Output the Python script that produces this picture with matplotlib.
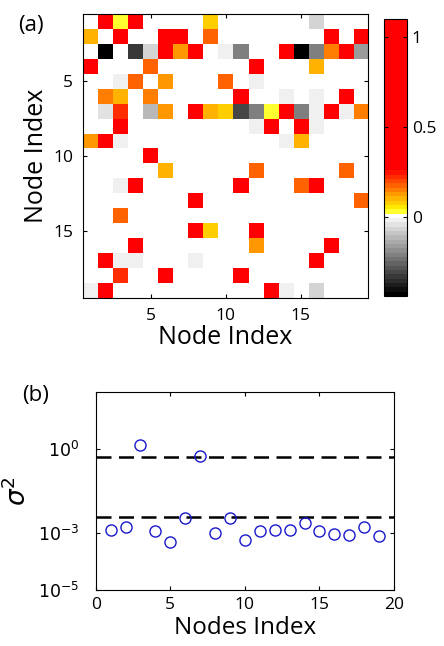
import matplotlib
matplotlib.use("Agg")
import matplotlib.pyplot as plt
import numpy as np
from matplotlib.colors import LinearSegmentedColormap

plt.rcParams['font.family'] = ['Open Sans', 'DejaVu Sans']
plt.rcParams['mathtext.fontset'] = 'dejavusans'

# ---- panel (a): sparse 19x19 matrix, (row, col, value), 1-indexed ----
N_NODES = 19
cell_rows = [1, 1, 1, 1, 1, 1,
             2, 2, 2, 2, 2, 2, 2,
             3, 3, 3, 3, 3, 3, 3, 3, 3, 3, 3, 3, 3, 3,
             4, 4, 4, 4,
             5, 5, 5, 5, 5,
             6, 6, 6, 6, 6, 6, 6,
             7, 7, 7, 7, 7, 7, 7, 7, 7, 7, 7, 7, 7, 7, 7, 7, 7,
             8, 8, 8, 8, 8, 8,
             9, 9, 9, 9, 9,
             10,
             11, 11, 11,
             12, 12, 12, 12, 12,
             13, 13,
             14,
             15, 15, 15,
             16, 16, 16,
             17, 17, 17, 17, 17,
             18, 18, 18,
             19, 19, 19, 19, 19, 19, 19, 19]
cell_cols = [2, 3, 4, 9, 12, 16,
             1, 3, 6, 7, 9, 17, 19,
             2, 4, 5, 6, 7, 8, 10, 11, 14, 15, 16, 17, 18, 19,
             1, 5, 12, 16,
             3, 4, 6, 10, 12,
             2, 3, 5, 11, 14, 16, 18,
             1, 2, 3, 5, 6, 8, 9, 10, 11, 12, 13, 14, 15, 16, 17, 18, 19,
             3, 12, 13, 15, 16, 19,
             1, 2, 3, 14, 15,
             5,
             6, 12, 18,
             3, 4, 11, 15, 16,
             8, 19,
             3,
             8, 9, 12,
             4, 12, 17,
             2, 3, 4, 8, 16,
             3, 6, 11,
             1, 2, 3, 4, 13, 14, 15, 16]
cell_vals = [1.0, 0.03, 1.0, 0.076, 0.015, -0.06,
             0.10, 1.0, 1.0, 1.0, 0.18, 1.0, 1.0,
             -0.42, -0.34, -0.06, 1.0, 0.13, 1.0, -0.03, -0.2, 1.0, -0.42, -0.2, 0.14, 1.0, -0.17,
             1.0, 0.18, 1.0, 0.10,
             -0.03, 0.18, 0.12, 0.18, -0.03,
             0.15, 0.10, 0.15, 1.0, -0.03, -0.03, 1.0,
             0.015, -0.05, 0.23, -0.11, 0.12, 1.0, 0.10, 0.07, -0.31, -0.2, 0.035, 1.0, -0.2, -0.03, 1.0, -0.03, 0.15,
             1.0, -0.03, 1.0, 1.0, -0.03, 0.015,
             0.12, 1.0, -0.03, -0.03, 0.10,
             1.0,
             0.10, 0.18, 0.18,
             -0.03, 1.0, 1.0, 0.18, 1.0,
             1.0, 0.18,
             0.18,
             1.0, 0.08, 1.0,
             1.0, 0.13, 1.0,
             1.0, -0.03, -0.03, -0.03, 1.0,
             0.23, 1.0, 1.0,
             -0.03, 1.0, 0.015, 0.015, 1.0, -0.03, 0.015, -0.06]

# ---- panel (b): sigma^2 per node ----
node_idx = list(range(1, 20))
sigma2 = [1.3e-3, 1.66e-3, 1.38, 1.23e-3, 4.9e-4, 3.45e-3, 0.56, 1.0e-3,
          3.5e-3, 5.8e-4, 1.23e-3, 1.37e-3, 1.37e-3, 2.35e-3, 1.2e-3,
          9.6e-4, 8.5e-4, 1.7e-3, 7.9e-4]
thresholds = [0.5, 3.7e-3]

VMIN, VMAX = -0.44, 1.1

mat = np.zeros((N_NODES, N_NODES))
for r, c, v in zip(cell_rows, cell_cols, cell_vals):
    mat[r - 1, c - 1] = v


def pos(v):
    return (v - VMIN) / (VMAX - VMIN)


cmap = LinearSegmentedColormap.from_list(
    'grayhot', [(0.0, (0, 0, 0)), (pos(0.0), (1, 1, 1)),
                (pos(0.03), (1, 1, 0)), (pos(0.26), (1, 0, 0)),
                (1.0, (1, 0, 0))], N=64)

fig = plt.figure(figsize=(4.44, 6.46), dpi=100)

ax = fig.add_axes([0.187, 0.5387, 0.642, 0.4396])
im = ax.imshow(mat, cmap=cmap, vmin=VMIN, vmax=VMAX, aspect='auto',
               interpolation='nearest',
               extent=(0.5, N_NODES + 0.5, N_NODES + 0.5, 0.5))
ax.set_xticks([5, 10, 15])
ax.set_yticks([5, 10, 15])
ax.tick_params(direction='in', top=True, right=True, length=3,
               labelsize=12.5, width=0.8)
ax.tick_params(axis='x', pad=7)
ax.tick_params(axis='y', pad=7)
ax.set_xlabel('Node Index', fontsize=18, labelpad=1)
ax.set_ylabel('Node Index', fontsize=18, labelpad=3)
for s in ax.spines.values():
    s.set_linewidth(0.8)
fig.text(0.04, 0.961, '(a)', fontsize=16, va='center')

cax = fig.add_axes([0.865, 0.5418, 0.0518, 0.4288])
cb = fig.colorbar(im, cax=cax, ticks=[0, 0.5, 1])
cb.ax.set_yticklabels(['0', '0.5', '1'])
cb.ax.tick_params(direction='in', left=True, right=True, length=3,
                  labelsize=12.5, width=0.8)
cb.outline.set_linewidth(0.8)

bx = fig.add_axes([0.2155, 0.0867, 0.672, 0.3065])
for th in thresholds:
    bx.axhline(th, color='black', lw=1.8, ls=(0, (6, 3)))
bx.semilogy(node_idx, sigma2, 'o', mfc='none', mec='#1818cc', ms=8,
            mew=1.0, ls='none')
bx.set_xlim(0, 20)
bx.set_ylim(1e-5, 1e2)
bx.set_xticks([0, 5, 10, 15, 20])
bx.set_yticks([1e-5, 1e-3, 1e0])
bx.set_yticklabels([r'$10^{-5}$', r'$10^{-3}$', r'$10^{0}$'])
bx.yaxis.set_minor_locator(matplotlib.ticker.NullLocator())
bx.tick_params(direction='in', top=True, right=True, length=3,
               labelsize=12.5, width=0.8)
bx.tick_params(axis='x', pad=5)
bx.tick_params(axis='y', pad=12)
bx.set_xlabel('Nodes Index', fontsize=17.5, labelpad=2)
bx.set_ylabel(r'$\sigma^2$', fontsize=19, labelpad=4)
for s in bx.spines.values():
    s.set_linewidth(0.8)
fig.text(0.05, 0.388, '(b)', fontsize=16, va='center')

fig.savefig('out.png', dpi=100)
